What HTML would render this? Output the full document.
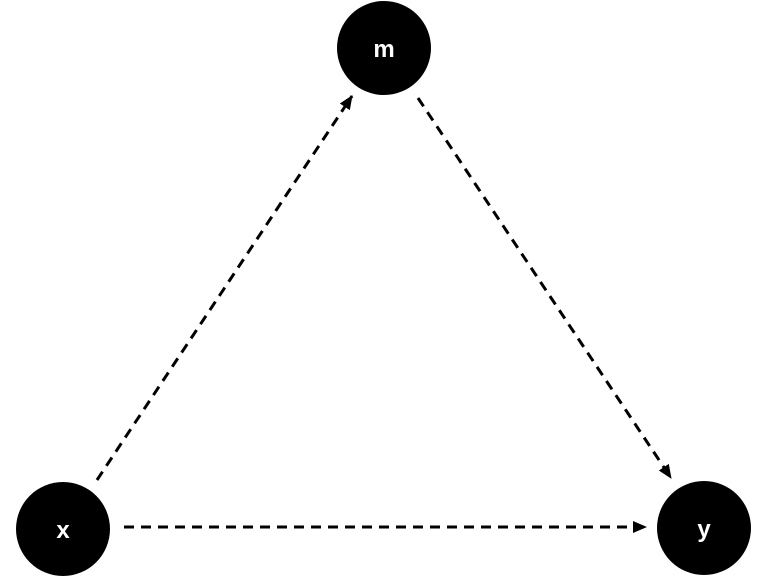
<!DOCTYPE html>
<html><head><style>html,body{margin:0;padding:0;background:#fff;}svg{display:block}</style></head>
<body>
<svg width="768" height="576" viewBox="0 0 768 576" xmlns="http://www.w3.org/2000/svg">
<defs><marker id="a" markerWidth="10" markerHeight="10" refX="9" refY="5" orient="auto" markerUnits="userSpaceOnUse" viewBox="0 0 10 10"><path d="M0,0 L10,5 L0,10 z" fill="#000"/></marker>
<marker id="b" markerWidth="14" markerHeight="12" refX="13" refY="6" orient="auto" markerUnits="userSpaceOnUse" viewBox="0 0 14 12"><path d="M0,0 L14,6 L0,12 z" fill="#000"/></marker></defs>
<g stroke="#000" stroke-width="3" stroke-dasharray="10,7" fill="none">
<line x1="97" y1="480" x2="352" y2="96" marker-end="url(#b)"/>
<line x1="418" y1="98" x2="671" y2="478" marker-end="url(#b)"/>
<line x1="124" y1="527" x2="646" y2="527" marker-end="url(#b)"/>
</g>
<circle cx="384" cy="48" r="47" fill="#000"/>
<circle cx="63" cy="529" r="47" fill="#000"/>
<circle cx="704" cy="528" r="47" fill="#000"/>
<g fill="#fff" font-family="Liberation Sans, sans-serif" font-weight="bold" font-size="24" text-anchor="middle">
<text x="384" y="57">m</text>
<text x="63" y="538">x</text>
<text x="704" y="537">y</text>
</g>
</svg>
</body></html>
